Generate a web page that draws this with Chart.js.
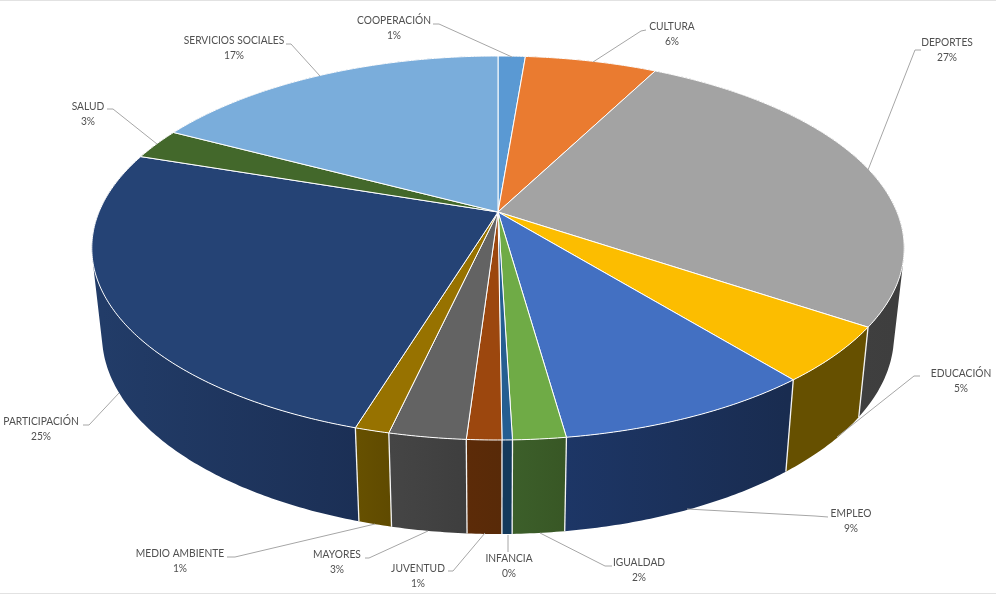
<!DOCTYPE html>
<html lang="es">
<head>
    <meta charset="UTF-8">
    <title>Gasto por áreas</title>
    <script src="https://cdn.jsdelivr.net/npm/chart.js"></script>
    <style>
        html, body { margin: 0; padding: 0; background: #fff; overflow: hidden; }
        canvas { display: block; }
    </style>
</head>
<body>
    <canvas id="pie3d" width="996" height="595"></canvas>
    <script>
        const categories = ['COOPERACIÓN', 'CULTURA', 'DEPORTES', 'EDUCACIÓN', 'EMPLEO', 'IGUALDAD', 'INFANCIA',
            'JUVENTUD', 'MAYORES', 'MEDIO AMBIENTE', 'PARTICIPACIÓN', 'SALUD', 'SERVICIOS SOCIALES'];
        const shares = [1.3, 6.3, 26.8, 4.7, 8.67, 1.76, 0.34, 1.16, 2.56, 1.15, 25.39, 2.6, 17.27];

        const topColors = ['#5a99d3', '#ea7b30', '#a3a3a3', '#fcbd00', '#4370c2', '#6fab46', '#255e91',
            '#9c470e', '#636363', '#977200', '#254375', '#43682b', '#7aaddb'];
        // wall colours, left and right end of the horizontal gradient
        const wallLeft = ['#375d81', '#8e4b1d', '#454545', '#665000', '#1d3666', '#3c5f2a', '#143a5c',
            '#5c2b08', '#454545', '#665000', '#223c68', '#283e1a', '#4a6985'];
        const wallRight = ['#375d81', '#8e4b1d', '#3e3e3e', '#665000', '#192c50', '#385725', '#143a5c',
            '#582a08', '#3e3e3e', '#5f4a00', '#1b2f55', '#283e1a', '#4a6985'];

        // label anchor (centre of first line) and leader polyline, in slice order
        const labelPos = [[394, 20], [672, 26], [947, 42], [961, 373], [851, 513], [639, 562], [509, 558],
            [418, 568], [337, 554], [180, 553], [41, 421], [88, 106], [234, 40]];
        const leaders = [
            [[433, 24], [439, 24], [512, 57]],
            [[646, 30], [641, 31], [593, 62]],
            [[921, 50], [915, 50], [868, 170]],
            [[920, 376], [914, 376], [837, 437]],
            [[828, 517], [815, 516], [687, 509]],
            [[612, 566], [605, 566], [540, 533]],
            [[508, 552], [508, 535]],
            [[448, 571], [453, 571], [485, 533]],
            [[365, 558], [369, 558], [428, 531]],
            [[227, 557], [235, 557], [375, 524]],
            [[83, 425], [89, 425], [119, 393]],
            [[107, 109], [113, 109], [157, 144]],
            [[286, 44], [291, 44], [320, 76]]
        ];

        // perspective of the two discs
        const k = 0.1875;
        const topDisc = { cx: 498, cy: 212, rx: 399, ry: 185.25 };
        const bottomDisc = { cx: 498, cy: 297.7, rx: 389, ry: 192 };

        function project(angle, disc) {
            const w = 1 - k * Math.sin(angle);
            return [disc.cx + disc.rx * Math.cos(angle) / w, disc.cy + disc.ry * Math.sin(angle) / w];
        }

        function arcAngles(start, end) {
            const list = [];
            const steps = Math.max(2, Math.ceil((end - start) / 0.01));
            for (let i = 0; i <= steps; i++) list.push(start + (end - start) * i / steps);
            return list;
        }

        function drawWall(ctx, arc, i) {
            const angles = arcAngles(arc.startAngle, arc.endAngle);
            const xs = angles.map(a => project(a, bottomDisc)[0]);
            const grad = ctx.createLinearGradient(Math.min(...xs), 0, Math.max(...xs) + 1, 0);
            grad.addColorStop(0, wallLeft[i]);
            grad.addColorStop(1, wallRight[i]);
            ctx.fillStyle = grad;
            // all quads in one path, same winding, so no seams show between them
            ctx.beginPath();
            for (let j = 0; j < angles.length - 1; j++) {
                let quad = [project(angles[j], topDisc), project(angles[j + 1], topDisc),
                    project(angles[j + 1], bottomDisc), project(angles[j], bottomDisc)];
                let area = 0;
                quad.forEach((p, n) => {
                    const q = quad[(n + 1) % 4];
                    area += p[0] * q[1] - q[0] * p[1];
                });
                if (area < 0) quad = quad.reverse();
                quad.forEach((p, n) => n ? ctx.lineTo(p[0], p[1]) : ctx.moveTo(p[0], p[1]));
                ctx.closePath();
            }
            ctx.fill();
        }

        function drawSeam(ctx, angle) {
            if (Math.sin(angle) < -0.05) return;
            const a = project(angle, topDisc);
            const b = project(angle, bottomDisc);
            ctx.strokeStyle = '#f4f4f4';
            ctx.lineWidth = 1.3;
            ctx.beginPath();
            ctx.moveTo(a[0], a[1]);
            ctx.lineTo(b[0], b[1]);
            ctx.stroke();
        }

        function drawTop(ctx, arc, i) {
            ctx.beginPath();
            ctx.moveTo(topDisc.cx, topDisc.cy);
            arcAngles(arc.startAngle, arc.endAngle).forEach(a => {
                const p = project(a, topDisc);
                ctx.lineTo(p[0], p[1]);
            });
            ctx.closePath();
            ctx.fillStyle = topColors[i];
            ctx.fill();
            ctx.strokeStyle = '#ffffff';
            ctx.lineWidth = 1;
            ctx.lineJoin = 'round';
            ctx.stroke();
        }

        const tilted = {
            id: 'tilted',
            beforeDatasetsDraw(chart) {
                const ctx = chart.ctx;
                const arcs = chart.getDatasetMeta(0).data;
                const order = arcs.map((arc, i) => i).sort((p, q) =>
                    Math.sin((arcs[p].startAngle + arcs[p].endAngle) / 2) -
                    Math.sin((arcs[q].startAngle + arcs[q].endAngle) / 2));
                ctx.save();
                // frame lines of the original picture
                ctx.fillStyle = '#e2e2e2';
                ctx.fillRect(0, 0, 996, 1);
                ctx.fillRect(0, 593, 996, 1);
                order.forEach(i => drawWall(ctx, arcs[i], i));
                arcs.forEach(arc => drawSeam(ctx, arc.startAngle));
                arcs.forEach((arc, i) => drawTop(ctx, arc, i));

                // leaders and labels
                const total = shares.reduce((s, v) => s + v, 0);
                ctx.strokeStyle = '#a6a6a6';
                ctx.lineWidth = 1;
                leaders.forEach(line => {
                    ctx.beginPath();
                    line.forEach((p, j) => j ? ctx.lineTo(p[0], p[1]) : ctx.moveTo(p[0], p[1]));
                    ctx.stroke();
                });
                ctx.font = '11.5px Lato';
                ctx.fillStyle = '#505050';
                ctx.textAlign = 'center';
                ctx.textBaseline = 'middle';
                const squeeze = t => ctx.measureText(t).width * 0.89;
                categories.forEach((name, i) => {
                    const pct = Math.round(shares[i] / total * 100) + '%';
                    ctx.fillText(name, labelPos[i][0], labelPos[i][1], squeeze(name));
                    ctx.fillText(pct, labelPos[i][0], labelPos[i][1] + 15, squeeze(pct));
                });
                ctx.restore();
                return false;
            }
        };

        new Chart(document.getElementById('pie3d').getContext('2d'), {
            type: 'pie',
            data: {
                labels: categories,
                datasets: [{ data: shares, backgroundColor: topColors }]
            },
            options: {
                responsive: false,
                animation: false,
                devicePixelRatio: 1,
                plugins: { legend: { display: false }, tooltip: { enabled: false } }
            },
            plugins: [tilted]
        });
    </script>
</body>
</html>
